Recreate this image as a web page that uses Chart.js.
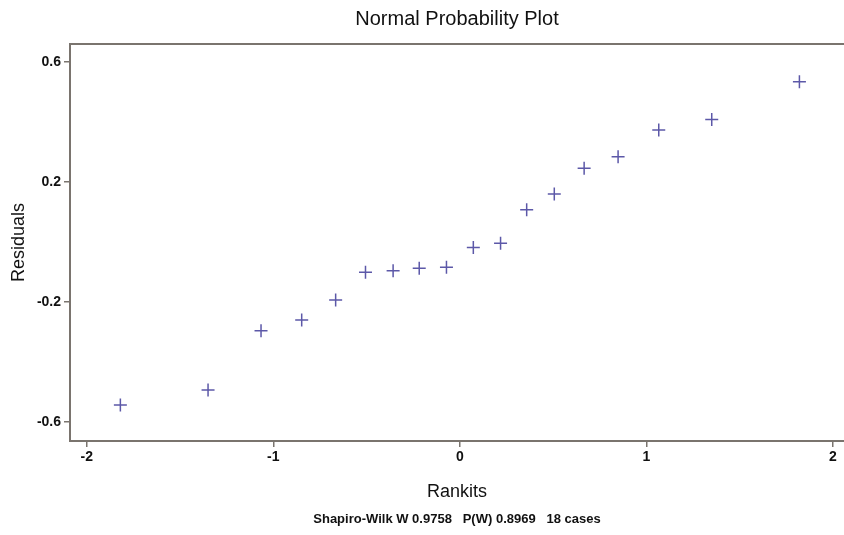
<!DOCTYPE html>
<html>
<head>
<meta charset="utf-8">
<script src="https://cdn.jsdelivr.net/npm/chart.js@4"></script>
<style>
  html, body { margin: 0; padding: 0; background: #fff; overflow: hidden; }
  canvas { display: block; }
</style>
</head>
<body>
<canvas id="c" width="844" height="535" style="width:844px;height:535px"></canvas>
<script>
// Data
const rankits = [-1.820, -1.350, -1.066, -0.848, -0.666, -0.506, -0.358, -0.218, -0.072,
                  0.072, 0.218, 0.358, 0.506, 0.666, 0.848, 1.066, 1.350, 1.820];
const residuals = [-0.543, -0.493, -0.296, -0.260, -0.193, -0.101, -0.096, -0.087, -0.084,
                   -0.018, -0.004, 0.108, 0.160, 0.246, 0.284, 0.373, 0.408, 0.534];
const xTicks = [-2, -1, 0, 1, 2];
const yTicks = [-0.6, -0.2, 0.2, 0.6];
const titleText = 'Normal Probability Plot';
const xTitle = 'Rankits';
const yTitle = 'Residuals';
const footerText = 'Shapiro-Wilk W 0.9758   P(W) 0.8969   18 cases';

const FRAME = '#7a746e';
const FONT = "'Liberation Sans', Arial, sans-serif";

const framePlugin = {
  id: 'frameTop',
  afterDraw(chart) {
    const {ctx, chartArea} = chart;
    ctx.save();
    ctx.strokeStyle = FRAME;
    ctx.lineWidth = 2;
    ctx.beginPath();
    ctx.moveTo(chartArea.left, chartArea.top);
    ctx.lineTo(chartArea.right, chartArea.top);
    ctx.stroke();
    ctx.restore();
  }
};

new Chart(document.getElementById('c'), {
  type: 'scatter',
  data: {
    datasets: [{
      data: rankits.map((x, i) => ({x: x, y: residuals[i]})),
      showLine: false,
      pointStyle: 'cross',
      pointRadius: 6.5,
      pointHoverRadius: 6.5,
      borderColor: '#5c58a8',
      backgroundColor: '#5c58a8',
      pointBorderWidth: 1.5
    }]
  },
  plugins: [framePlugin],
  options: {
    responsive: false,
    animation: false,
    devicePixelRatio: 1,
    layout: { autoPadding: false, padding: { left: 0, right: 0, top: 0, bottom: 0 } },
    plugins: {
      legend: { display: false },
      tooltip: { enabled: false },
      title: {
        display: true,
        fullSize: false,
        text: titleText,
        color: '#111',
        font: { family: FONT, size: 20, weight: 'normal', lineHeight: 1.2 },
        padding: { top: 7, bottom: 13 }
      },
      subtitle: {
        display: true,
        fullSize: false,
        position: 'bottom',
        text: footerText,
        color: '#111',
        font: { family: FONT, size: 13, weight: 'bold', lineHeight: 1.2 },
        padding: { top: 3, bottom: 8 }
      }
    },
    scales: {
      x: {
        type: 'linear',
        min: -2.09,
        max: 2.059,
        afterBuildTicks(scale) { scale.ticks = xTicks.map(v => ({value: v})); },
        afterFit(scale) { scale.height = 67.4; scale.paddingLeft = 0; scale.paddingRight = 0; },
        border: { display: true, color: FRAME, width: 2 },
        grid: { drawOnChartArea: false, drawTicks: true, tickLength: 6, color: FRAME, lineWidth: 1.5 },
        ticks: {
          color: '#111',
          padding: 2,
          font: { family: FONT, size: 14, weight: 'bold' },
          callback: v => String(v)
        },
        title: {
          display: true,
          text: xTitle,
          color: '#111',
          font: { family: FONT, size: 18, weight: 'normal', lineHeight: 1.2 },
          padding: { top: 0, bottom: 6 }
        }
      },
      y: {
        type: 'linear',
        min: -0.663,
        max: 0.66,
        afterBuildTicks(scale) { scale.ticks = yTicks.map(v => ({value: v})); },
        afterFit(scale) { scale.width = 70; scale.paddingTop = 0; scale.paddingBottom = 0; },
        border: { display: true, color: FRAME, width: 2 },
        grid: { drawOnChartArea: false, drawTicks: true, tickLength: 6, color: FRAME, lineWidth: 1.5 },
        ticks: {
          color: '#111',
          padding: 3,
          font: { family: FONT, size: 14, weight: 'bold' },
          callback: v => String(v)
        },
        title: {
          display: true,
          text: yTitle,
          color: '#111',
          font: { family: FONT, size: 18, weight: 'normal', lineHeight: 1.2 },
          padding: { top: 8, bottom: 0 }
        }
      }
    }
  }
});
</script>
</body>
</html>
